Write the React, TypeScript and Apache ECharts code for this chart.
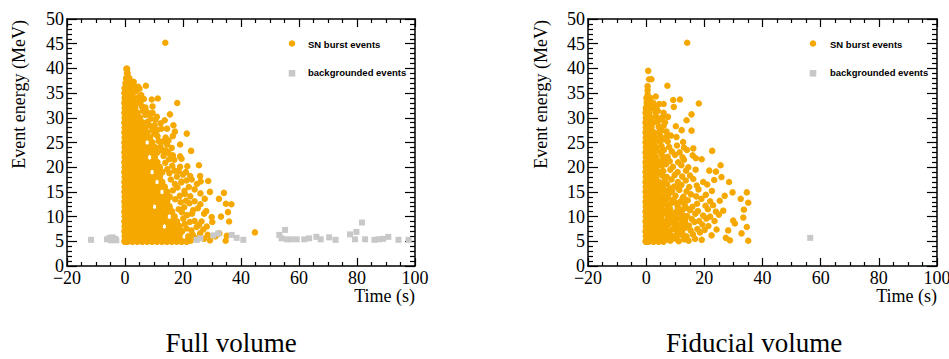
import React, { useEffect, useRef } from "react";
import * as echarts from "echarts";

// ---------- data ----------
const xTicks = { min: -20, max: 100, interval: 20 };
const yTicks = { min: 0, max: 50, interval: 5 };
const captions = ["Full volume", "Fiducial volume"];
const legendNames = ["SN burst events", "backgrounded events"];

// Full volume: dense core rows [energy, times...]
const fullCoreRows: [number, number[]][] = [
  [5, [-0.1, 0.85, 2.55, 4.25, 5.95, 7.65, 9.35, 11.05, 12.75, 14.45, 16.15, 17.85, 19.55, 21.25]],
  [6, [0, 1.7, 3.4, 5.1, 6.8, 8.5, 10.2, 11.9, 13.6, 15.3, 17, 18.7]],
  [7, [-0.1, 0.85, 2.55, 4.25, 5.95, 7.65, 9.35, 11.05, 12.75, 14.45, 16.15, 17.85, 19.55]],
  [8, [0, 1.7, 3.4, 5.1, 6.8, 8.5, 10.2, 11.9, 15.3, 17, 18.7]],
  [9, [-0.1, 0.85, 2.55, 4.25, 5.95, 7.65, 9.35, 11.05, 12.75, 14.45, 16.15, 17.85]],
  [10, [0, 1.7, 3.4, 5.1, 6.8, 8.5, 10.2, 11.9, 13.6, 17]],
  [11, [-0.1, 0.85, 2.55, 4.25, 5.95, 7.65, 9.35, 11.05, 12.75, 14.45, 16.15]],
  [12, [0, 1.7, 3.4, 5.1, 6.8, 8.5, 11.9, 13.6, 15.3]],
  [13, [-0.1, 0.85, 2.55, 4.25, 5.95, 7.65, 9.35, 11.05, 12.75, 14.45]],
  [14, [0, 1.7, 3.4, 5.1, 6.8, 8.5, 10.2, 11.9, 13.6, 15.3]],
  [15, [-0.1, 0.85, 2.55, 4.25, 5.95, 7.65, 9.35, 11.05, 14.45]],
  [16, [0, 1.7, 3.4, 5.1, 6.8, 8.5, 10.2, 11.9, 13.6]],
  [17, [-0.1, 0.85, 2.55, 4.25, 5.95, 7.65, 9.35, 12.75]],
  [18, [0, 1.7, 3.4, 5.1, 6.8, 8.5, 10.2, 11.9]],
  [19, [-0.1, 0.85, 2.55, 4.25, 5.95, 7.65, 11.05, 12.75]],
  [20, [0, 1.7, 3.4, 5.1, 6.8, 8.5, 10.2, 11.9]],
  [21, [-0.1, 0.85, 2.55, 4.25, 5.95, 7.65, 9.35, 11.05]],
  [22, [0, 1.7, 3.4, 5.1, 6.8, 10.2]],
  [23, [-0.1, 0.85, 2.55, 4.25, 5.95, 7.65, 9.35, 11.05]],
  [24, [0, 1.7, 3.4, 5.1, 6.8, 8.5, 10.2]],
  [25, [-0.1, 0.85, 2.55, 4.25, 5.95, 9.35]],
  [26, [0, 1.7, 3.4, 5.1, 6.8, 8.5]],
  [27, [-0.1, 0.85, 2.55, 4.25, 5.95, 7.65]],
  [28, [0, 1.7, 3.4, 5.1, 6.8]],
  [29, [-0.1, 0.85, 2.55, 4.25, 5.95]],
  [30, [0, 1.7, 3.4, 5.1]],
  [31, [-0.1, 0.85, 2.55, 4.25]],
  [32, [0, 1.7, 3.4]],
  [33, [-0.1, 0.85, 2.55, 4.0]],
  [34, [0, 1.7, 3.0]],
  [35, [-0.1, 0.85, 2.55]],
  [36, [0, 1.5]],
  [37, [0.3, 1.2]],
  [38, [0.5, 1.4]],
  [39, [0.8]],
  [39.9, [0.6]],
];

// Full volume: scattered SN events [time, energy]
const fullScatter: [number, number][] = [
  [22.6, 5.1], [24.5, 5.6], [27.2, 5.5], [29.3, 5.2], [34.7, 5.1], [23.4, 6.3], [21.8, 6.0],
  [25.9, 6.6], [28.5, 6.3], [31.2, 6.0], [35.1, 6.1],
  [21.2, 7.6], [22.9, 7.2], [24.7, 7.9], [27, 7.4], [32.5, 6.6], [44.8, 6.8], [20.6, 8.5],
  [22.3, 8.9], [25.5, 8.3], [28.2, 8.0], [26.4, 9.0],
  [20.1, 9.6], [21.4, 10.3], [24, 9.1], [27.3, 10.6], [30.1, 8.9], [35.9, 9], [29.9, 9.9],
  [33.1, 10], [19.6, 10.9], [23.1, 10.6],
  [18.5, 11.5], [20.4, 11.9], [22.2, 12.7], [23.5, 11.3], [26, 12.5], [28, 11.1], [35.5, 10.9],
  [34.8, 12.6], [36.7, 12.5], [19.2, 12.9], [25.1, 11.7],
  [17.3, 13.5], [18.9, 14.2], [21, 13.2], [24, 13.1], [27.5, 13.6], [32.4, 13.6], [20.6, 14.6],
  [22.5, 14.1], [26, 14.7], [29.3, 15],
  [16.5, 15.3], [18.1, 15.9], [20.5, 15.2], [24, 15.5], [34.1, 14.8], [17.2, 16.6], [19.4, 16.9],
  [22, 16], [24.8, 16.6], [21.2, 17.3],
  [15.8, 17.5], [17.9, 18.1], [19.5, 17.1], [23, 17.5], [26.1, 17.1], [28.7, 17.2], [15.3, 18.8],
  [20, 18.5], [22.5, 18.2], [25.9, 18.2], [17.1, 19.3],
  [14.6, 19.6], [16.3, 20.3], [18.5, 19.2], [21, 19], [19, 20.1], [21.5, 20.2], [25.5, 20.4],
  [13.9, 20.9], [15.2, 21.6],
  [17, 21.5], [19.5, 21.7], [16.5, 22.4], [13.3, 22.3], [15, 22.9], [19, 22.2], [12.8, 23.4],
  [14, 23.4], [16.1, 23.9], [22.8, 23.3], [12.2, 24.2], [14.5, 24.6], [19, 24.6], [11.6, 25.3],
  [13, 25.2], [15, 25.4], [11.2, 26.3], [14, 26], [21.3, 26.8], [16.5, 26.3], [10.1, 26.8],
  [11, 27.5], [12.5, 27.8], [17.2, 27.2], [14.5, 27.8], [9.5, 27.6], [8.6, 28.4], [10.2, 28.5],
  [16.7, 28.5], [12.3, 28.9],
  [7.8, 29.2], [8.9, 29.8], [13.7, 29.5], [10.5, 29.6], [7.1, 30.6], [8.2, 30.9], [15.5, 30.7], [11, 30.2],
  [6.2, 31.4], [7.5, 31.2], [9.5, 31], [5.8, 32.3], [7, 32.1], [9.5, 32.3],
  [5.3, 33.1], [6.5, 33.8], [18, 33], [4.8, 34.2], [9.2, 33.7], [11.3, 33.9], [5.6, 34.6],
  [3.9, 35.4], [5, 35.9], [2.9, 36.3], [7.2, 36.5], [2.2, 36.8], [4.5, 36.3], [3, 37.3],
  [13.9, 45.2],
];

// Full volume: background events [time, energy]
const fullBackground: [number, number][] = [
  [-11.7, 5.3], [-6.2, 5.4], [-5.3, 5.7], [-4.3, 5.8], [-3.4, 5.5], [-4.8, 5.2], [-3, 5.2],
  [24.7, 5.3], [26, 5.6], [30.5, 6.2], [32.2, 6.6], [36.8, 6.3], [38.5, 5.7], [40.8, 5.3],
  [53.2, 6.3], [54, 5.6], [55.2, 7.3], [55.8, 5.4], [57.2, 5.4], [59.2, 5.4], [61.8, 5.4],
  [63.5, 5.6], [66, 5.9], [67.5, 5.4], [70.4, 5.8], [72.6, 5.3],
  [77.6, 6.4], [79.8, 6.9], [79.3, 5.4], [81.7, 8.8], [82.8, 5.4], [86, 5.3], [87.5, 5.4],
  [89, 5.5], [90.8, 5.9], [94.3, 5.3], [97.8, 5.3],
];

// Fiducial volume: dense core rows [energy, times...]
const fidCoreRows: [number, number[]][] = [
  [5, [-0.1, 0.85, 2.55, 4.25, 5.95]],
  [6, [0, 1.7, 3.4, 5.1, 6.8]],
  [7, [-0.1, 0.85, 2.55, 4.25, 5.95]],
  [8, [0, 1.7, 3.4, 5.1, 6.8]],
  [9, [-0.1, 0.85, 2.55, 4.25, 5.95]],
  [10, [0, 1.7, 3.4, 5.1]],
  [11, [-0.1, 0.85, 2.55, 4.25, 5.95]],
  [12, [0, 1.7, 3.4, 5.1]],
  [13, [-0.1, 0.85, 2.55, 4.25, 5.95]],
  [14, [0, 1.7, 3.4, 5.1]],
  [15, [-0.1, 0.85, 2.55, 4.25]],
  [16, [0, 1.7, 3.4, 5.1]],
  [17, [-0.1, 0.85, 2.55, 4.25]],
  [18, [0, 1.7, 3.4]],
  [19, [-0.1, 0.85, 2.55, 4.25]],
  [20, [0, 1.7, 3.4]],
  [21, [-0.1, 0.85, 2.55, 4.25]],
  [22, [0, 1.7, 3.4]],
  [23, [-0.1, 0.85, 2.55]],
  [24, [0, 1.7, 3.4]],
  [25, [-0.1, 0.85, 2.55]],
  [26, [0, 1.7, 3.0]],
  [27, [-0.1, 0.85, 2.55]],
  [28, [0, 1.7]],
  [29, [-0.1, 0.85, 2.3]],
  [30, [0, 1.7]],
  [31, [-0.1, 0.85]],
  [32, [0, 1.7]],
  [33, [0.3, 1.5]],
  [34, [0.2]],
];

// Fiducial volume: scattered SN events [time, energy]
const fidScatter: [number, number][] = [
  [8.3, 5.1], [9.6, 5.6], [11.2, 5.0], [13.1, 5.4], [14.6, 5.1], [16.8, 5.5], [19.1, 5.3], [28.8, 5.2], [35.1, 5.1],
  [8.1, 6.5], [10.3, 6.2], [12.4, 6.7], [13.9, 6.0], [16.1, 6.4], [18.5, 6.8], [22.5, 6.2], [27.4, 5.7],
  [8.9, 7.4], [10.7, 7.1], [12.9, 7.7], [15.3, 7.2], [17.6, 7.5], [20.1, 7.3], [24.2, 7.4], [28.2, 7.2], [32.8, 6.6],
  [7.7, 8.4], [10.1, 8.1], [12.2, 8.6], [14.7, 8.2], [16.6, 8.9], [19.3, 8.4], [21.4, 8.1], [34.6, 7.9],
  [8.4, 9.4], [9.9, 9.0], [11.6, 9.7], [13.4, 9.2], [15.7, 9.5], [18.2, 9.1], [20.7, 9.6], [23.5, 9.1], [30.5, 8.6], [29.9, 9.2],
  [7.3, 10.3], [9.4, 10.0], [11.8, 10.5], [14.1, 10.1], [16.9, 10.6], [19.6, 10.2], [22, 10], [25, 10.4], [33.4, 9.8],
  [6.9, 11.2], [8.2, 11.6], [10.3, 11.0], [12.6, 11.4], [15.1, 11.3], [17.8, 11.1], [21.2, 11.5], [24, 11], [26.5, 11.2],
  [7.1, 12.3], [8.6, 12.7], [10.8, 12.1], [13.2, 12.5], [15.9, 12.0], [17.5, 12.6], [20.4, 12.2], [23, 12.3], [33.6, 11.4],
  [6.6, 13.1], [9.4, 13.4], [11.7, 13.0], [14.3, 13.3], [19, 13.6], [22, 13.1], [25.3, 13.2], [32.5, 13.6], [35.1, 12.8],
  [5.9, 14.2], [7.7, 14.6], [10.1, 14.2], [12.8, 14.0], [15.4, 14.5], [17.2, 14.1], [20.5, 14.4], [27, 14.2],
  [6.4, 15.3], [8.9, 15.0], [11.4, 15.4], [13.9, 15.1], [18, 15.5], [22.6, 15.2], [29.7, 14.9], [34.6, 14.9],
  [5.8, 16.3], [7.2, 16.6], [9.6, 16.1], [12.1, 16.4], [14.8, 16.0], [17.4, 16.3], [21, 16.5],
  [6.3, 17.2], [8.7, 17.5], [10.9, 17.0], [13.6, 17.3], [16.2, 17.6], [19.6, 17], [23.4, 17.4], [28.5, 17],
  [5.6, 18.3], [7.1, 18.0], [9.8, 18.4], [12.4, 18.1], [15.1, 18.3], [25.9, 18],
  [5.9, 19.2], [8.3, 19.5], [10.8, 19.0], [13.7, 19.3], [17, 19.5], [21.7, 19.3], [24, 19.1],
  [5.4, 20.3], [6.8, 20.6], [9.2, 20.1], [12.1, 20.4], [14.5, 20], [25.6, 20.4],
  [5.1, 21.2], [6.2, 21.5], [8.1, 21.2], [11, 21], [13, 21.5], [17.1, 21.8], [19.1, 21.6],
  [5.6, 22.3], [7.4, 22.1], [9.9, 22.5], [12.5, 22], [16, 22.4], [22.7, 23.3],
  [4.8, 23.1], [6.1, 23.5], [8.8, 23.2], [11.5, 23], [14, 23.5], [16.2, 23.8],
  [5.3, 24.3], [7.9, 24.1], [10.6, 24.4], [13, 24],
  [4.6, 25.2], [5.7, 25.6], [7.4, 25.2], [12.7, 25.1],
  [4.9, 26.3], [6.9, 26.1], [8.5, 26.4], [10.4, 26.1],
  [4.4, 27.1], [5.2, 27.4], [7, 27.2], [12.2, 27.5], [15.6, 27.4],
  [4.3, 28.2], [6, 28.4], [10.2, 28.3],
  [3.9, 29.2], [4.7, 29.6], [6.5, 29.1], [13.9, 29.5],
  [3.5, 30.2], [5.5, 30.1], [7.5, 30.2], [15.6, 30.7],
  [3.2, 31.1], [4, 31.4], [6, 31],
  [3.5, 32.1], [9.5, 32.2], [18.1, 32.9],
  [2.5, 33], [4.5, 32.8], [6, 32.8],
  [1.5, 34], [3.3, 34.3], [9.3, 33.6], [11.6, 33.7],
  [0.5, 34.7], [0.5, 35.6], [0.5, 36.4], [7.3, 36.5], [1, 37.8], [1.8, 37.8], [0.7, 39.5],
  [14.1, 45.2],
  // extra low-energy events that fill the lower block
  [7.2, 5.4], [9, 6.0], [11.3, 6.4], [12.9, 5.8], [10.5, 5.5], [7.8, 7.0], [9.9, 7.6], [11.8, 7.3],
  [13.8, 7.8], [6.9, 8.7], [9.0, 8.8], [11.1, 8.4], [13.3, 8.7], [7.5, 9.8], [10.8, 9.9], [12.7, 10.2],
  [8.3, 10.8], [11.2, 11.6], [13.7, 11.8], [7.6, 13.8], [9.9, 12.9], [12.5, 13.6], [8.2, 15.7], [10.6, 15.9],
];

// Fiducial volume: background events [time, energy]
const fidBackground: [number, number][] = [[56.4, 5.7]];

// ---------- styling ----------
const ORANGE = "#f5a800";
const GRAY = "#c8c8c8";
const SERIF = "Liberation Serif, Times New Roman, serif";
const SANS = "Liberation Sans, Arial, sans-serif";

function flattenRows(rows: [number, number[]][]): [number, number][] {
  const out: [number, number][] = [];
  rows.forEach(([y, xs]) => xs.forEach((x) => out.push([x, y])));
  return out;
}

const grids = [
  { left: 67, top: 19, width: 348, height: 247 },
  { left: 588, top: 19, width: 349, height: 247 },
];

function xAxisFor(gridIndex: number, position: "bottom" | "top") {
  const isBottom = position === "bottom";
  return {
    type: "value",
    gridIndex,
    position,
    min: xTicks.min,
    max: xTicks.max,
    interval: xTicks.interval,
    axisLine: { show: true, onZero: false, lineStyle: { color: "#000", width: 1.5 } },
    axisTick: { show: true, inside: true, length: 8, lineStyle: { color: "#000", width: 1.2 } },
    minorTick: { show: true, splitNumber: 4, length: 4, lineStyle: { color: "#000", width: 1.2 } },
    splitLine: { show: false },
    axisLabel: {
      show: isBottom,
      margin: 3,
      color: "#000",
      fontFamily: SERIF,
      fontSize: 18,
      formatter: (v: number) => (v < 0 ? "\u2212" + Math.abs(v) : String(v)),
    },
  };
}

function yAxisFor(gridIndex: number, position: "left" | "right") {
  const isLeft = position === "left";
  return {
    type: "value",
    gridIndex,
    position,
    min: yTicks.min,
    max: yTicks.max,
    interval: yTicks.interval,
    axisLine: { show: true, onZero: false, lineStyle: { color: "#000", width: 1.5 } },
    axisTick: { show: true, inside: true, length: 10, lineStyle: { color: "#000", width: 1.2 } },
    minorTick: { show: true, splitNumber: 5, length: 5, lineStyle: { color: "#000", width: 1.2 } },
    splitLine: { show: false },
    axisLabel: {
      show: isLeft,
      margin: 3,
      color: "#000",
      fontFamily: SERIF,
      fontSize: 18,
    },
  };
}

function legendGraphics(markerX: number, textX: number) {
  return [
    { type: "circle", shape: { cx: markerX, cy: 43.5, r: 3.3 }, style: { fill: ORANGE } },
    {
      type: "text",
      x: textX,
      y: 44,
      style: { text: legendNames[0], fill: "#000", font: `bold 9.5px ${SANS}`, textVerticalAlign: "middle" },
    },
    { type: "rect", shape: { x: markerX - 3.3, y: 70, width: 6.6, height: 6.6 }, style: { fill: GRAY } },
    {
      type: "text",
      x: textX,
      y: 72.5,
      style: { text: legendNames[1], fill: "#000", font: `bold 9.5px ${SANS}`, textVerticalAlign: "middle" },
    },
  ];
}

function titleGraphics() {
  const serif18 = `18px ${SERIF}`;
  return [
    {
      type: "text",
      x: 19,
      y: 20,
      rotation: Math.PI / 2,
      style: { text: "Event energy (MeV)", fill: "#000", font: serif18, textAlign: "right", textVerticalAlign: "middle" },
    },
    {
      type: "text",
      x: 540.5,
      y: 20,
      rotation: Math.PI / 2,
      style: { text: "Event energy (MeV)", fill: "#000", font: serif18, textAlign: "right", textVerticalAlign: "middle" },
    },
    {
      type: "text",
      x: 415,
      y: 296,
      style: { text: "Time (s)", fill: "#000", font: serif18, textAlign: "right", textVerticalAlign: "middle" },
    },
    {
      type: "text",
      x: 937,
      y: 296,
      style: { text: "Time (s)", fill: "#000", font: serif18, textAlign: "right", textVerticalAlign: "middle" },
    },
    {
      type: "text",
      x: 231,
      y: 343,
      style: { text: captions[0], fill: "#000", font: `27px ${SERIF}`, textAlign: "center", textVerticalAlign: "middle" },
    },
    {
      type: "text",
      x: 754,
      y: 343,
      style: { text: captions[1], fill: "#000", font: `27px ${SERIF}`, textAlign: "center", textVerticalAlign: "middle" },
    },
  ];
}

function snSeries(name: string, axis: number, data: [number, number][], size: number) {
  return {
    name,
    type: "scatter",
    xAxisIndex: axis,
    yAxisIndex: axis,
    symbol: "circle",
    symbolSize: size,
    itemStyle: { color: ORANGE, opacity: 1 },
    data,
    z: 2,
  };
}

function bgSeries(name: string, axis: number, data: [number, number][]) {
  return {
    name,
    type: "scatter",
    xAxisIndex: axis,
    yAxisIndex: axis,
    symbol: "rect",
    symbolSize: 6,
    itemStyle: { color: GRAY, opacity: 1 },
    data,
    z: 3,
  };
}

export default function App() {
  const ref = useRef<HTMLDivElement>(null);

  useEffect(() => {
    document.body.style.margin = "0";
    if (!ref.current) return;
    const chart = echarts.init(ref.current, null, { renderer: "svg" });

    const option: any = {
      animation: false,
      backgroundColor: "#fff",
      grid: grids.map((g) => ({ ...g, containLabel: false, outerBoundsMode: "none" })),
      xAxis: [xAxisFor(0, "bottom"), xAxisFor(0, "top"), xAxisFor(1, "bottom"), xAxisFor(1, "top")],
      yAxis: [yAxisFor(0, "left"), yAxisFor(0, "right"), yAxisFor(1, "left"), yAxisFor(1, "right")],
      series: [
        snSeries(legendNames[0] + " (full, core)", 0, flattenRows(fullCoreRows), 7.2),
        snSeries(legendNames[0] + " (full)", 0, fullScatter, 6.5),
        bgSeries(legendNames[1] + " (full)", 0, fullBackground),
        snSeries(legendNames[0] + " (fiducial, core)", 2, flattenRows(fidCoreRows), 7.2),
        snSeries(legendNames[0] + " (fiducial)", 2, fidScatter, 6.5),
        bgSeries(legendNames[1] + " (fiducial)", 2, fidBackground),
      ],
      graphic: [...legendGraphics(292, 308), ...legendGraphics(813, 830), ...titleGraphics()],
    };

    chart.setOption(option);
    return () => chart.dispose();
  }, []);

  return <div ref={ref} style={{ width: 949, height: 359 }} />;
}
